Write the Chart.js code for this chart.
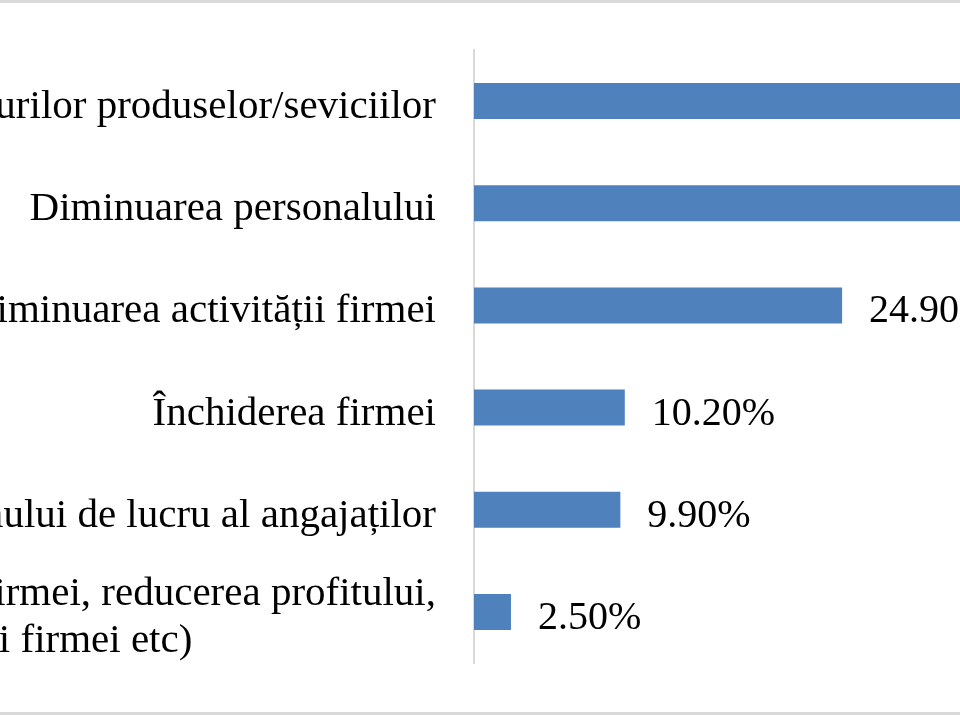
<!DOCTYPE html>
<html>
<head>
<meta charset="utf-8">
<script src="https://cdn.jsdelivr.net/npm/chart.js@4.4.0/dist/chart.umd.min.js"></script>
<style>
  html, body { margin: 0; padding: 0; background: #fff; overflow: hidden; }
  #frame { position: relative; width: 960px; height: 709px; border-top: 3px solid #d9d9d9; border-bottom: 3px solid #d9d9d9; overflow: hidden; }
  #chart { position: absolute; left: 0; top: 0; }
</style>
</head>
<body>
<div id="frame"><canvas id="chart" width="1400" height="709"></canvas></div>
<script>
// categories top to bottom (each entry = lines of the label)
const categories = [
    ['Creșterea prețurilor produselor/seviciilor'],
    ['Diminuarea personalului'],
    ['Diminuarea activității firmei'],
    ['Închiderea firmei'],
    ['Reducerea programului de lucru al angajaților'],
    ['Altele (pierderea clienților firmei, reducerea profitului,', 'scăderea cotei firmei etc)']
];
// top two bars run off the picture, values estimated
const shares = [51.6, 45.3, 24.9, 10.2, 9.9, 2.5];
const axisMax = 60;

const serif = '"Liberation Serif", "Times New Roman", serif';

// category labels (centred lines, right aligned block) and value labels
const labelPlugin = {
    id: 'labels',
    afterDatasetsDraw(chart) {
        const ctx = chart.ctx;
        const yScale = chart.scales.y;
        const meta = chart.getDatasetMeta(0);
        ctx.save();
        ctx.fillStyle = '#000';
        ctx.textBaseline = 'alphabetic';
        categories.forEach((lines, i) => {
            const yc = yScale.getPixelForValue(i);
            ctx.font = '41px ' + serif;
            const widest = Math.max(...lines.map(l => ctx.measureText(l).width));
            const cx = chart.chartArea.left - 38 - widest / 2;
            ctx.textAlign = 'center';
            lines.forEach((l, k) => {
                ctx.fillText(l, cx, yc + 17 + (k - (lines.length - 1) / 2) * 47);
            });
            ctx.font = '40px ' + serif;
            ctx.textAlign = 'left';
            ctx.fillText(shares[i].toFixed(2) + '%', meta.data[i].x + 27, yc + 17);
        });
        ctx.restore();
    }
};

new Chart(document.getElementById('chart'), {
    type: 'bar',
    data: {
        labels: categories,
        datasets: [{
            data: shares,
            backgroundColor: '#4f81bd',
            barPercentage: 0.352,
            categoryPercentage: 1
        }]
    },
    options: {
        indexAxis: 'y',
        responsive: false,
        animation: false,
        layout: { padding: { left: 474, right: 39, top: 47, bottom: 49 } },
        scales: {
            x: { display: false, min: 0, max: axisMax },
            y: {
                grid: { display: false, drawTicks: false },
                border: { display: true, color: '#d9d9d9', width: 2 },
                ticks: { display: false }
            }
        },
        plugins: {
            legend: { display: false },
            tooltip: { enabled: false }
        }
    },
    plugins: [labelPlugin]
});
</script>
</body>
</html>
